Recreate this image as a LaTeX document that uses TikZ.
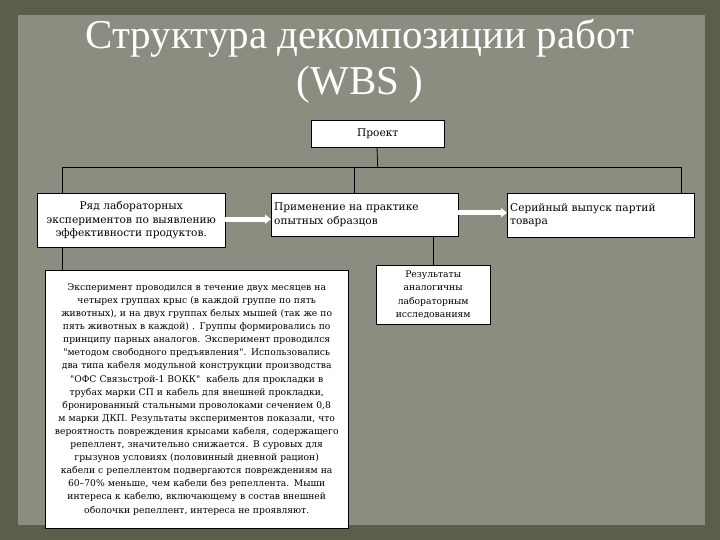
\documentclass[tikz,border=0pt]{standalone}
\usepackage{fontspec}
\setmainfont{Liberation Serif}
\newfontfamily\boxfont{DejaVu Serif}
\usetikzlibrary{arrows.meta,positioning}
\definecolor{frame}{RGB}{90,95,75}
\definecolor{paper}{RGB}{138,141,128}
\tikzset{>={Triangle[width=9pt,length=6pt]},
	box/.style={draw=black,fill=white,anchor=north west,inner sep=3pt,font=\boxfont\fontsize{10.6}{13.5}\selectfont},
	bigbox/.style={box,font=\boxfont\fontsize{9.2}{13.1}\selectfont},
	resbox/.style={box,font=\boxfont\fontsize{9.2}{13.5}\selectfont},
	flow/.style={->,draw=white,line width=5pt},
	link/.style={draw=black,line width=0.8pt},
	title/.style={text=white,font=\fontsize{41}{46}\selectfont,align=center}}
\begin{document}
\begin{tikzpicture}[x=1pt,y=-1pt]
	\useasboundingbox (0,0) rectangle (720,540);
	\fill[frame] (0,0) rectangle (720,540);
	\fill[paper] (18,15) rectangle (705,525);
	\node (T) at (360,61) [title] {Структура декомпозиции работ\\(WBS )};
	\node (proj) at (311,120) [box,minimum width=133pt,minimum height=27pt,align=center] {Проект};
	\node (lab) at (37,193) [box,minimum width=188pt,minimum height=54pt,text width=182pt,align=center]
	{Ряд лабораторных\\экспериментов по выявлению\\эффективности продуктов.};
	\node (appl) at (271,193) [box,minimum width=187pt,minimum height=43pt,text width=181pt,align=left]
	{Применение на практике\\опытных образцов};
	\node (ser) at (507,193) [box,minimum width=187pt,minimum height=44pt,text width=181pt,align=left]
	{Серийный выпуск партий\\товара};
	\node (exp) at (45,270) [bigbox,minimum width=303pt,minimum height=258pt,text width=297pt,align=center]
	{Эксперимент проводился в течение двух месяцев на\\
	четырех группах крыс (в каждой группе по пять\\
	животных), и на двух группах белых мышей (так же по\\
	пять животных в каждой) . Группы формировались по\\
	принципу парных аналогов. Эксперимент проводился\\
	"методом свободного предъявления". Использовались\\
	два типа кабеля модульной конструкции производства\\
	"ОФС Связьстрой-1 ВОКК"\ \ кабель для прокладки в\\
	трубах марки СП и кабель для внешней прокладки,\\
	бронированный стальными проволоками сечением 0,8\\
	м марки ДКП. Результаты экспериментов показали, что\\
	вероятность повреждения крысами кабеля, содержащего\\
	репеллент, значительно снижается. В суровых для\\
	грызунов условиях (половинный дневной рацион)\\
	кабели с репеллентом подвергаются повреждениям на\\
	60–70\% меньше, чем кабели без репеллента. Мыши\\
	интереса к кабелю, включающему в состав внешней\\
	оболочки репеллент, интереса не проявляют.};
	\node (res) at (376,265) [resbox,minimum width=114pt,minimum height=59pt,text width=108pt,align=center]
	{Результаты\\аналогичны\\лабораторным\\исследованиям};
	\coordinate (b1) at (62,167);
	\coordinate (b2) at (354,167);
	\coordinate (b3) at (681,167);
	\draw[link] (b1) -- (b3);
	\draw[link] (proj.south -| 377,0) -- (proj.south |- b1);
	\draw[link] (b1) -- (b1 |- lab.north);
	\draw[link] (b2) -- (b2 |- appl.north);
	\draw[link] (b3) -- (b3 |- ser.north);
	\draw[link] (b1 |- lab.south) -- (b1 |- exp.north);
	\draw[link] (appl.south -| res.north) -- (res.north);
	\draw[flow] ([yshift=-4.5pt]appl.west -| lab.east) -- ([yshift=-4.5pt]appl.west);
	\draw[flow] ([yshift=2pt]appl.east) -- ([yshift=2pt]appl.east -| ser.west);
\end{tikzpicture}
\end{document}
